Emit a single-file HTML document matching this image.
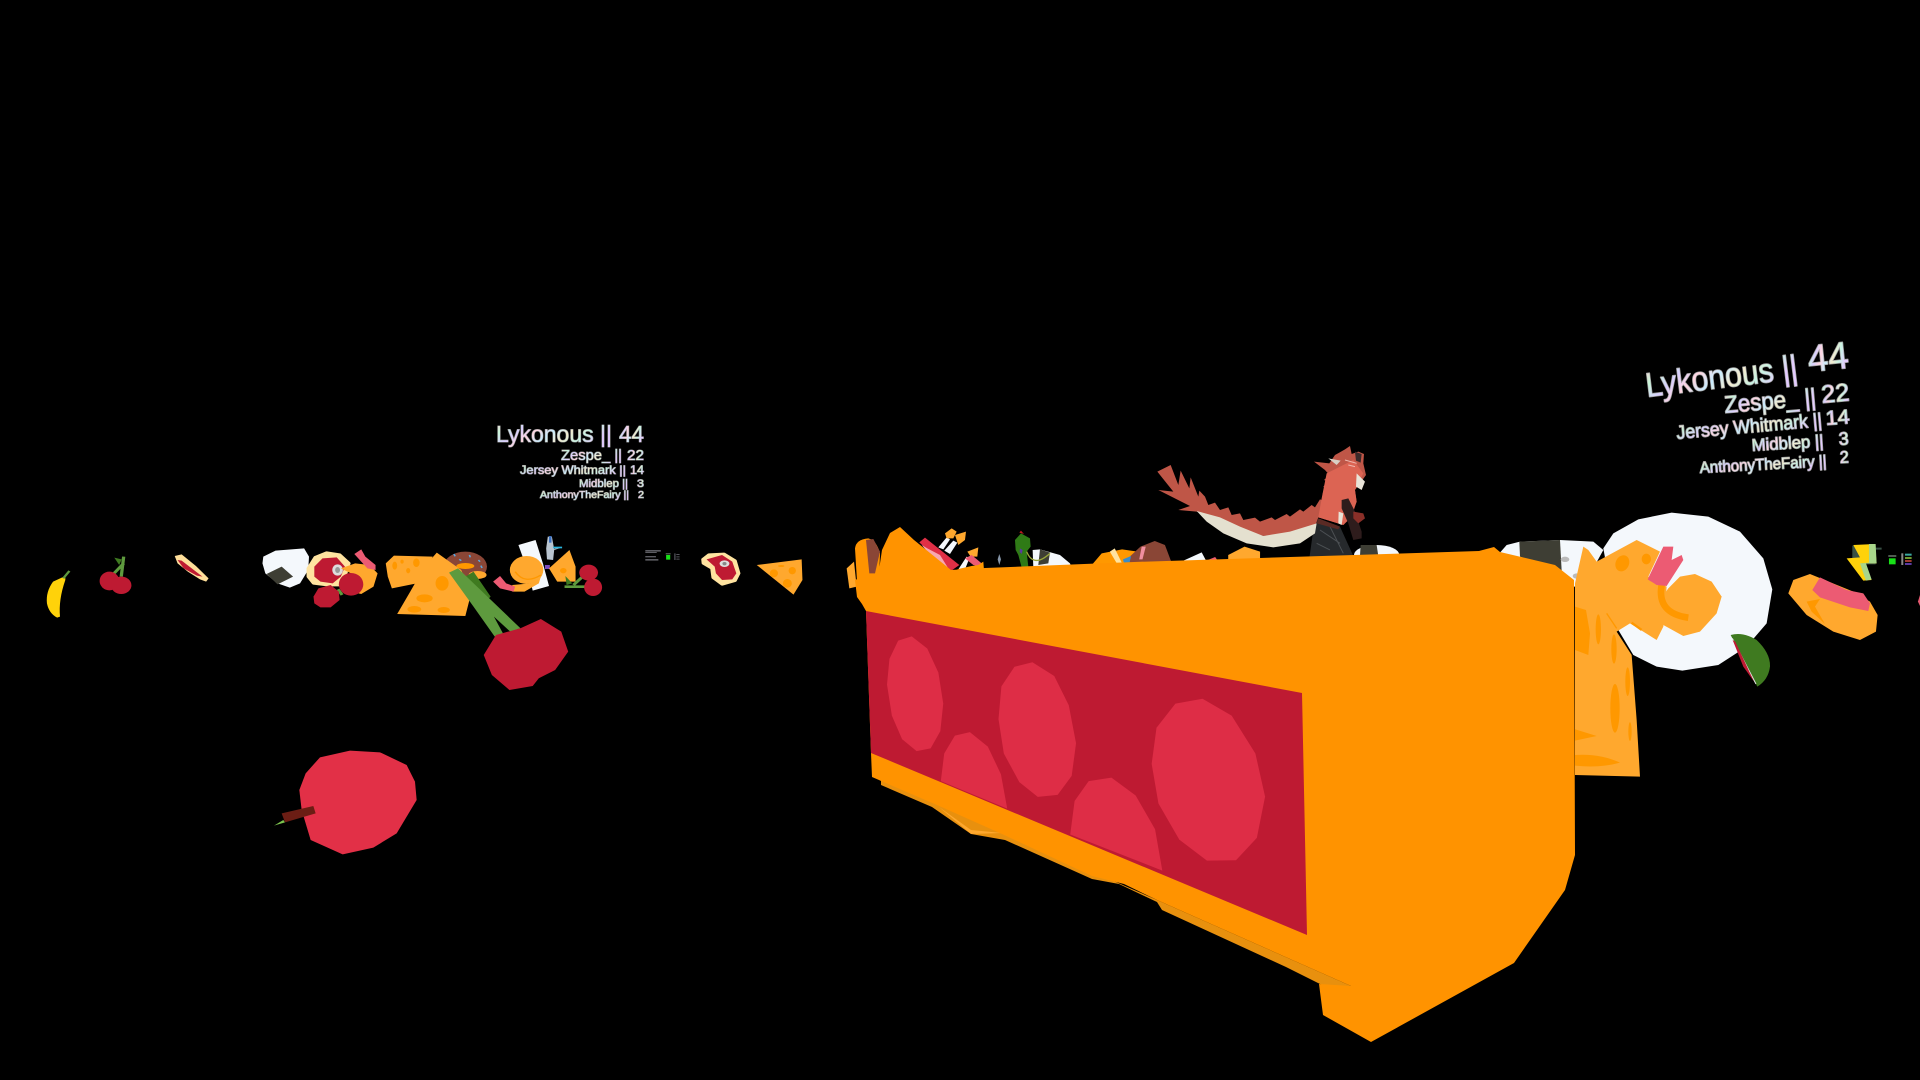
<!DOCTYPE html>
<html lang="en"><head><meta charset="utf-8"><title>Scene</title>
<style>
html,body{margin:0;padding:0;background:#000;width:1920px;height:1080px;overflow:hidden}
svg{display:block}
text{font-family:"Liberation Sans",sans-serif;font-weight:400;fill:url(#rb);paint-order:stroke;stroke-linejoin:round}
.board text{stroke:#8f8f8f;stroke-width:1.1px}
.board2 text{stroke:#9c9c9c;stroke-width:1.5px}
.round{stroke-linejoin:round}
</style></head><body>
<svg width="1920" height="1080" viewBox="0 0 1920 1080" xmlns="http://www.w3.org/2000/svg">
<defs>
<linearGradient id="rb" x1="0" y1="0" x2="1" y2="0.3">
 <stop offset="0" stop-color="#ffc4d4"/><stop offset=".14" stop-color="#c8f6d8"/><stop offset=".28" stop-color="#d8d0ff"/>
 <stop offset=".42" stop-color="#ffd6e0"/><stop offset=".56" stop-color="#c8ecff"/><stop offset=".7" stop-color="#f4ecd0"/>
 <stop offset=".85" stop-color="#c8f4e4"/><stop offset="1" stop-color="#e4ccff"/>
</linearGradient>
</defs>
<rect width="1920" height="1080" fill="#000"/>

<!-- left scene -->
<g transform="translate(0,400) scale(0.4082,0.3333)">
 <path d="M160 528L130 545Q112 575 115 610Q120 640 140 653L147 650Q143 600 160 540Z" fill="#FFD20A"/>
 <path d="M155 535L170 513" stroke="#5E9A3E" stroke-width="6" fill="none"/>
 <path d="M303 470L297 530M303 490L278 522" stroke="#5E9A3E" stroke-width="8" fill="none"/>
 <path d="M280 473L298 478L292 495Z" fill="#3F7A20"/>
 <ellipse cx="268" cy="543" rx="24" ry="28" fill="#BE1A32"/><ellipse cx="297" cy="556" rx="25" ry="26" fill="#BE1A32"/>
 <polygon points="428,468 445,463 480,498 511,535 505,545 490,538 460,515 435,490" fill="#FFDF9A"/>
 <polygon points="435,480 445,482 496,530 482,527 450,505" fill="#BE1A32"/>
 <polygon points="645,470 675,452 745,445 757,470 755,510 735,550 710,563 680,550 650,520 643,490" fill="#F4F8FC"/>
 <polygon points="653,522 690,500 718,530 680,553" fill="#3E3E34"/>
 <polygon points="755,505 772,472 800,458 832,464 855,490 838,555 800,555 768,550 755,530" fill="#FFE3A0" stroke="#FFE3A0" stroke-width="8" class="round"/>
 <polygon points="770,500 790,475 825,472 845,500 835,530 815,550 785,545 770,530" fill="#BE1A32"/>
 <ellipse cx="827" cy="510" rx="13" ry="17" fill="#ddd"/><ellipse cx="827" cy="510" rx="6" ry="9" fill="#999"/>
 <polygon points="835,505 870,490 905,495 925,520 915,560 885,582 860,575 875,540 860,520" fill="#FFA82E"/>
 <polygon points="868,462 885,448 895,470 920,495 920,510 900,505 885,485" fill="#EC5B73"/>
 <path d="M828 568L838 585" stroke="#5E9A3E" stroke-width="8"/>
 <ellipse cx="860" cy="553" rx="30" ry="34" fill="#BE1A32"/>
 <polygon points="768,590 780,565 810,555 830,575 832,600 810,622 785,622 770,610" fill="#BE1A32"/>
 <polygon points="945,490 965,467 1060,470 1045,510 1030,548 960,565 950,530" fill="#FFA82E"/>
 <ellipse cx="1020" cy="488" rx="8" ry="13" fill="#FF9800"/><ellipse cx="967" cy="497" rx="6" ry="12" fill="#FF9800"/><ellipse cx="1000" cy="512" rx="5" ry="8" fill="#FF9800"/><ellipse cx="985" cy="485" rx="4" ry="6" fill="#FF9800"/>
 <ellipse cx="1140" cy="500" rx="53" ry="45" fill="#8A4636"/>
 <ellipse cx="1140" cy="498" rx="22" ry="9" fill="#FF9800"/>
 <path d="M1112 462l3 7M1150 465l2 7M1178 497l3 7M1172 480l4 5M1125 478l5 4" stroke="#5AA8E0" stroke-width="4"/>
 <ellipse cx="1170" cy="525" rx="22" ry="12" fill="#FFA82E"/>
 <polygon points="1070,458 1130,510 1140,540 1150,600 1140,648 973,642 1005,575 1040,500" fill="#FFA82E"/>
 <ellipse cx="1083" cy="550" rx="16" ry="22" fill="#FF9800"/><ellipse cx="1040" cy="595" rx="20" ry="12" fill="#FF9800"/><ellipse cx="1015" cy="628" rx="17" ry="10" fill="#FF9800"/><ellipse cx="1087" cy="630" rx="15" ry="9" fill="#FF9800"/>
 <polygon points="1140,530 1160,515 1202,590 1190,605 1155,575" fill="#3F7A20"/>
 <polygon points="1100,518 1122,505 1275,685 1250,695 1210,650 1232,700 1212,710 1160,620" fill="#5E9A3E"/>
 <polygon points="1185,765 1215,705 1275,685 1325,657 1375,695 1392,755 1360,810 1320,835 1305,858 1248,870 1205,825" fill="#BE1A32"/>
 <polygon points="1270,435 1312,420 1330,490 1345,558 1305,572 1295,520" fill="#F4F8FC"/>
 <ellipse cx="1290" cy="510" rx="41" ry="42" fill="#FFA82E"/>
 <path d="M1262 515Q1285 555 1325 525" stroke="#FF9800" stroke-width="4" fill="none"/>
 <polygon points="1255,555 1300,550 1325,530 1320,550 1285,575 1255,575" fill="#FFA82E"/>
 <polygon points="1208,545 1225,528 1240,550 1262,560 1258,575 1225,565" fill="#EC5B73"/>
 <path d="M1342 410L1352 410L1358 450L1375 443L1358 446L1355 480L1340 478L1338 445Z" fill="#B9C4CF"/>
 <path d="M1345 408h6v20h-6z" fill="#3A6FC0"/><path d="M1355 440h22v5h-22z" fill="#29B6E0"/><path d="M1335 495h12v12h-12z" fill="#7A4BC0"/>
 <polygon points="1345,505 1395,450 1410,500 1410,545 1365,545" fill="#FFA82E"/>
 <ellipse cx="1380" cy="512" rx="8" ry="8" fill="#FF9800"/>
 <path d="M1383 560L1435 560M1405 555L1430 527" stroke="#5E9A3E" stroke-width="8"/>
 <path d="M1385 528L1402 550L1388 555Z" fill="#3F7A20"/>
 <ellipse cx="1442" cy="518" rx="23" ry="24" fill="#BE1A32"/><ellipse cx="1453" cy="562" rx="22" ry="26" fill="#BE1A32"/>
</g>

<!-- left scoreboard -->
<g class="board">
 <text x="496" y="442" font-size="23" textLength="116" lengthAdjust="spacingAndGlyphs">Lykonous ||</text>
 <text x="619" y="442" font-size="23" textLength="25" lengthAdjust="spacingAndGlyphs">44</text>
 <text x="561" y="460" font-size="15" textLength="61" lengthAdjust="spacingAndGlyphs">Zespe_ ||</text>
 <text x="627" y="460" font-size="15" textLength="17" lengthAdjust="spacingAndGlyphs">22</text>
 <text x="520" y="474" font-size="12" textLength="106" lengthAdjust="spacingAndGlyphs">Jersey Whitmark ||</text>
 <text x="630" y="474" font-size="12" textLength="14" lengthAdjust="spacingAndGlyphs">14</text>
 <text x="579" y="487" font-size="11" textLength="49" lengthAdjust="spacingAndGlyphs">Midblep ||</text>
 <text x="637" y="487" font-size="11" textLength="7" lengthAdjust="spacingAndGlyphs">3</text>
 <text x="540" y="498" font-size="10" textLength="89" lengthAdjust="spacingAndGlyphs">AnthonyTheFairy ||</text>
 <text x="638" y="498" font-size="10" textLength="6" lengthAdjust="spacingAndGlyphs">2</text>
</g>

<!-- middle far items -->
<g transform="translate(620,420) scale(0.4082,0.3333)">
 <path d="M62 390h38v5H62zM62 396h28v3H62zM62 408h26v4H62zM62 417h32v5H62z" fill="#5c5c62"/>
 <rect x="113" y="405" width="10" height="14" fill="#18e018"/>
 <rect x="112" y="400" width="12" height="3" fill="#6a7a6a"/>
 <path d="M133 400h3v20h-3zM138 402h8v3h-8zM138 409h8v3h-8zM138 416h8v3h-8z" fill="#55555c"/>
 <polygon points="203,418 218,404 255,402 282,422 291,460 282,482 250,493 228,473 225,445 204,430" fill="#FFE3A0" stroke="#FFE3A0" stroke-width="8" class="round"/>
 <polygon points="212,418 250,405 275,425 285,460 275,478 250,480 235,460 232,440" fill="#BE1A32"/>
 <ellipse cx="256" cy="431" rx="12" ry="10" fill="#ddd"/><ellipse cx="256" cy="431" rx="5" ry="5" fill="#888"/>
 <polygon points="335,435 445,418 447,480 425,524" fill="#FFA82E"/>
 <ellipse cx="377" cy="460" rx="10" ry="12" fill="#FF9800"/><ellipse cx="422" cy="452" rx="9" ry="11" fill="#FF9800"/><ellipse cx="410" cy="490" rx="11" ry="13" fill="#FF9800"/><ellipse cx="395" cy="438" rx="8" ry="3" fill="#FF9800"/>
 <polygon points="1157,433 1180,400 1230,388 1268,395 1340,430" fill="#FF9800"/>
 <polygon points="1200,395 1212,385 1230,430 1218,432" fill="#FFE3A0"/>
 <polygon points="1240,420 1275,380 1310,363 1335,375 1352,430 1245,432" fill="#8A4636"/>
 <polygon points="1232,418 1252,408 1248,430 1235,430" fill="#3A8CC8"/><polygon points="1278,380 1288,380 1280,418 1272,418" fill="#F08FA0"/>
 <polygon points="1375,425 1425,397 1437,425" fill="#F4F8FC"/><polygon points="1440,420 1458,411 1466,425" fill="#EC5B73"/>
 <polygon points="1490,405 1530,380 1568,395 1568,425 1490,425" fill="#FFA82E"/>
</g>

<!-- items peeking behind pie -->
<g transform="translate(840,510) scale(0.3333)">
 <polygon points="20,175 42,155 50,230 28,235" fill="#FFA82E"/>
 <polygon points="238,97 255,83 358,165 330,185" fill="#E02F46"/>
 <polygon points="245,105 262,115 300,135 325,175 300,170" fill="#F7A8B0"/>
 <polygon points="295,112 320,82 330,88 310,118" fill="#F4F8FC"/><polygon points="313,122 340,92 352,98 330,132" fill="#F4F8FC"/>
 <polygon points="315,70 335,55 350,65 340,85 320,85" fill="#FFA82E"/><polygon points="345,75 378,65 375,90 355,105" fill="#FFA82E"/>
 <polygon points="355,178 380,140 388,145 375,178" fill="#F4F8FC"/>
 <polygon points="382,125 415,112 412,140 392,140" fill="#FFA82E"/>
 <polygon points="375,145 395,135 425,160 420,170 400,165" fill="#EC5B73"/>
 <polygon points="350,178 395,168 415,165 430,155 432,180" fill="#FF9800"/>
 <polygon points="478,132 483,148 478,165 473,148" fill="#8796A8"/>
 <polygon points="578,120 600,118 660,135 690,160 695,172 580,172" fill="#F4F8FC"/>
 <polygon points="600,118 630,128 625,160 595,165" fill="#3E3E34"/>
 <polygon points="525,90 543,70 570,85 572,110 560,125 565,170 545,172 535,135 527,120" fill="#2F7A16"/>
 <polygon points="538,68 543,62 552,72" fill="#C01A20"/>
 <path d="M540 115l8 5-3 12-6-6z" fill="#5A3AA0"/>
 <path d="M560 125Q580 175 630 130" stroke="#9AA83A" stroke-width="4" fill="none"/>
</g>

<!-- white plate, cheese etc. -->
<g transform="translate(1500,500) scale(0.3333)">
 <polygon points="310,145 340,100 415,58 515,38 625,50 720,95 790,175 817,268 800,370 740,440 655,495 547,512 470,500 400,465 355,390" fill="#F4F8FC"/>
 <polygon points="0,158 20,135 60,125 180,120 280,125 310,150 250,260 0,260" fill="#F4F8FC"/>
 <polygon points="58,125 180,120 185,212 60,170" fill="#3E3E34"/>
 <ellipse cx="195" cy="178" rx="13" ry="8" fill="#bbb"/><ellipse cx="230" cy="228" rx="12" ry="8" fill="#bbb"/>
 <polygon points="225,250 250,140 265,150 290,185 410,120 480,155 445,230 500,260 490,380 470,420 390,370 350,395 395,465 410,660 420,830 225,825" fill="#FFA82E"/>
 <ellipse cx="367" cy="190" rx="20" ry="25" transform="rotate(25 367 190)" fill="#FF9800"/><ellipse cx="439" cy="177" rx="14" ry="16" fill="#FF9800"/>
 <ellipse cx="295" cy="388" rx="8" ry="45" fill="#FF9800"/><ellipse cx="342" cy="447" rx="8" ry="44" fill="#FF9800"/><ellipse cx="383" cy="545" rx="7" ry="43" fill="#FF9800"/><ellipse cx="345" cy="625" rx="14" ry="73" fill="#FF9800"/><ellipse cx="390" cy="695" rx="5" ry="28" fill="#FF9800"/>
 <path d="M225 320L258 330L270 400L265 465L225 450Z" fill="#FF9800"/><path d="M225 688L290 708L225 722Z" fill="#FF9800"/><path d="M225 765Q300 760 360 788Q300 805 225 797Z" fill="#FF9800"/>
 <path d="M320 340L350 385" stroke="#FF9800" stroke-width="4"/><path d="M395 368L425 390" stroke="#FF9800" stroke-width="7"/>
 <polygon points="505,265 540,230 585,222 635,245 665,290 650,340 600,395 550,408 490,375 480,300" fill="#FFA82E"/>
 <path d="M485 255Q470 340 565 353" stroke="#FF9800" stroke-width="20" fill="none"/>
 <polygon points="443,238 490,140 520,140 515,180 545,165 550,180 500,258 470,255" fill="#EC5B73"/>
 <path d="M692 405Q730 395 770 420Q812 460 810 500Q805 540 772 560Q730 480 692 405Z" fill="#3F7A20"/>
 <path d="M697 415L768 552" stroke="#E8E8E8" stroke-width="3"/>
 <polygon points="698,420 706,425 762,545 730,500" fill="#BE1A32"/>
 <polygon points="865,280 880,240 930,222 1060,275 1110,305 1133,345 1128,395 1080,420 1000,395 920,345" fill="#FFA82E"/>
 <polygon points="937,270 960,232 1040,270 1090,280 1110,310 1105,333 1050,322 960,292" fill="#EC5B73"/>
 <polygon points="920,305 960,297 945,320 975,372 935,335" fill="#FF9800"/>
 <path d="M1057 137h70v6h18v6h-18v44h-70z" fill="#6f9f8a" opacity=".5"/>
 <polygon points="1060,135 1125,132 1130,190 1085,190 1115,240 1090,242 1040,175 1080,172" fill="#FFD20A"/>
 <polygon points="1107,132 1127,132 1130,190 1095,190 1080,190 1107,188" fill="#A8D68A"/>
 <polygon points="1080,190 1098,190 1115,238 1098,242" fill="#A8D68A"/>
 <rect x="1167" y="175" width="20" height="18" fill="#18e018"/><rect x="1165" y="166" width="24" height="4" fill="#7a8a7a"/>
 <rect x="1204" y="160" width="6" height="35" fill="#888"/>
 <rect x="1215" y="161" width="20" height="6" fill="#3aa8a0"/><rect x="1215" y="171" width="20" height="6" fill="#6f9a2e"/><rect x="1215" y="180" width="20" height="6" fill="#a03a30"/><rect x="1215" y="189" width="20" height="6" fill="#5a3aa0"/>
 <path d="M1260 285V318L1254 305Z" fill="#EC5B73"/>
</g>

<!-- dragon -->
<g transform="translate(1140,430) scale(0.3333)">
 <ellipse cx="710" cy="375" rx="68" ry="30" fill="#F4F8FC"/>
 <polygon points="662,345 710,345 715,378 660,378" fill="#3E3E34"/>
 <polygon points="508,385 520,300 535,265 600,290 640,378" fill="#26292C"/>
 <path d="M540 300L600 340M570 290L610 370M530 340L570 360" stroke="#4c5054" stroke-width="3" fill="none"/>
 <polygon points="92,105 115,165 122,122 148,175 152,142 175,200 178,182 195,200 205,225 225,218 240,240 265,232 275,255 300,250 310,270 345,263 360,275 395,262 405,270 440,252 450,260 480,238 490,245 515,225 525,232 540,208 550,212 548,190 562,180 550,170 565,155 552,150 568,135 555,120 522,95 568,100 585,75 598,68 615,58 630,48 635,72 655,65 672,72 670,100 678,135 660,160 645,180 650,215 635,260 610,285 535,262 525,290 440,312 370,318 300,295 170,245 115,240 150,228 55,180 100,185 52,125" fill="#BF5647"/>
 <polygon points="560,130 640,90 670,130 645,180 650,215 630,265 610,285 535,262 545,205" fill="#DC6453"/>
 <polygon points="170,243 240,262 300,290 370,318 450,305 530,280 525,310 480,340 400,352 320,340 250,310 200,275" fill="#E4E0CF"/>
 <polygon points="650,130 675,155 665,180 648,170" fill="#E9E4D8"/>
 <polygon points="565,85 602,92 590,105" fill="#D8D0C4"/>
 <polygon points="645,65 665,72 662,98 648,92" fill="#3a2a2a"/>
 <path d="M615 90l35 10M625 105l20 5" stroke="#F0B8B0" stroke-width="3" fill="none"/>
 <polygon points="535,265 600,290 595,298 530,280" fill="#5a2a24"/>
 <polygon points="605,210 625,205 645,245 665,305 665,325 640,330 625,280 605,235" fill="#2e1c1c"/>
 <polygon points="640,245 670,250 675,265 655,280 640,265" fill="#8a2f28"/>
 <polygon points="596,245 610,250 605,285 595,280" fill="#E9E4D8"/>
</g>

<!-- apple -->
<g transform="translate(240,720) scale(0.3333)">
 <polygon points="240,112 330,92 420,97 500,135 525,185 530,240 470,340 400,383 308,403 212,360 185,270 178,210 197,160" fill="#E23047"/>
 <polygon points="102,317 130,300 135,307" fill="#7CC24E"/>
 <polygon points="125,280 220,258 227,280 135,307" fill="#6B1D14"/>
</g>

<!-- right scoreboard -->
<g class="board2">
 <text transform="translate(1647,397) rotate(-7)" font-size="34" textLength="153" lengthAdjust="spacingAndGlyphs">Lykonous ||</text>
 <text transform="translate(1809,372) rotate(-6)" font-size="38" textLength="41" lengthAdjust="spacingAndGlyphs">44</text>
 <text transform="translate(1725,413) rotate(-5)" font-size="24" textLength="92" lengthAdjust="spacingAndGlyphs">Zespe_ ||</text>
 <text transform="translate(1822,403) rotate(-5)" font-size="25" textLength="28" lengthAdjust="spacingAndGlyphs">22</text>
 <text transform="translate(1677,439) rotate(-5)" font-size="19" textLength="146" lengthAdjust="spacingAndGlyphs">Jersey Whitmark ||</text>
 <text transform="translate(1826,425) rotate(-4)" font-size="20" textLength="24" lengthAdjust="spacingAndGlyphs">14</text>
 <text transform="translate(1752,451) rotate(-3.5)" font-size="17" textLength="72" lengthAdjust="spacingAndGlyphs">Midblep ||</text>
 <text transform="translate(1839,445) rotate(-3)" font-size="18" textLength="10" lengthAdjust="spacingAndGlyphs">3</text>
 <text transform="translate(1700,473) rotate(-3)" font-size="16" textLength="127" lengthAdjust="spacingAndGlyphs">AnthonyTheFairy ||</text>
 <text transform="translate(1840,463) rotate(-2.5)" font-size="17" textLength="9" lengthAdjust="spacingAndGlyphs">2</text>
</g>

<!-- the big pie -->
<polygon points="881,781 881,785 932,807 971,834 1005,840 1092,879 1119,884 1157,902 1162,910 1286,967 1320,984 1351,995 1351,986 1157,900 872,775" fill="#E8900E"/>
<polygon points="939,807 971,830 1002,833 971,834" fill="#FFA82E"/>
<polygon points="862,604 857,597 855,580 879,570 882,550 890,533 900,527 914,540 951,570 985,568 1134,562 1260,558 1479,551 1494,547 1500,552 1555,565 1574,580 1575,855 1565,890 1514,963 1371,1042 1323,1015 1319,984 1351,986 1157,900 1124,884 1092,876 1002,834 937,805 872,777 871,753 866,611" fill="#FF9300"/>
<polygon points="866,611 1302,693 1307,935 871,753" fill="#BE1A32"/>
<g transform="translate(840,540) scale(0.4847,0.3444)" fill="#DE2D46">
 <polygon points="120,292 148,280 180,315 203,385 213,475 207,555 187,605 158,613 128,578 107,510 97,420 102,345"/>
 <polygon points="360,368 397,355 442,395 472,480 487,590 478,685 449,740 408,746 370,703 338,620 327,520 333,425"/>
 <polygon points="692,475 748,461 808,510 857,620 877,745 860,865 817,930 757,931 700,870 657,765 643,650 653,545"/>
 <polygon points="237,568 268,558 305,600 332,680 345,780 208,700 215,620"/>
 <polygon points="513,700 560,690 610,742 650,840 665,960 475,855 484,758"/>
</g>
<!-- left bump with brown slice -->
<g transform="translate(840,510) scale(0.3333)">
 <path d="M45 115Q48 88 85 85Q110 92 120 130L118 190L52 230Z" fill="#FF9300"/>
 <polygon points="78,90 100,87 120,125 105,190 88,190" fill="#8A4636"/>
</g>
</svg>
</body></html>
